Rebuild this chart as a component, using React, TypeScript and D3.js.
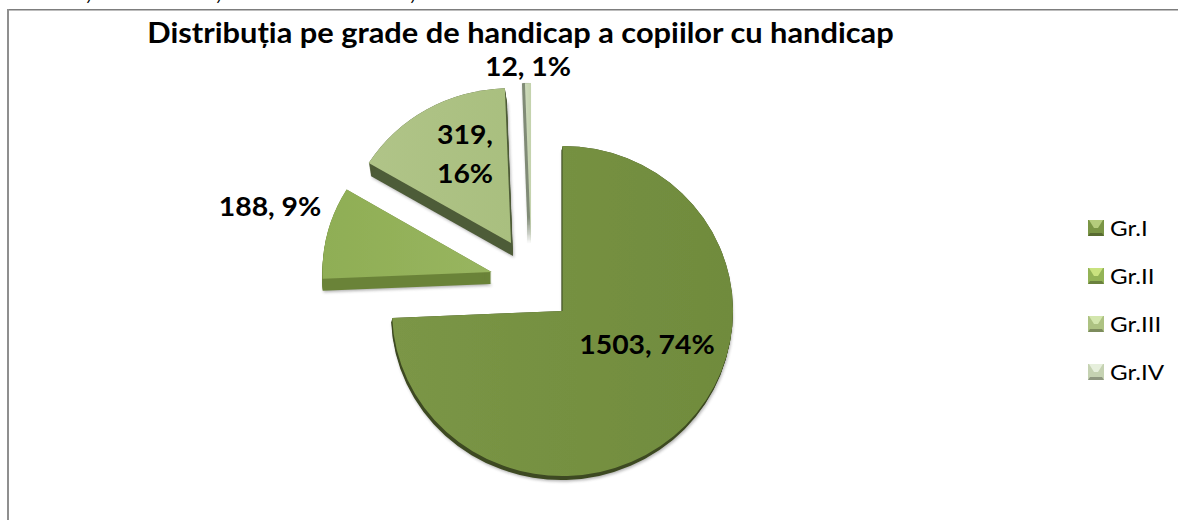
import React from "react";
import * as d3 from "d3";

const titleText = "Distribuția pe grade de handicap a copiilor cu handicap";
const categories = ["Gr.I", "Gr.II", "Gr.III", "Gr.IV"];
const seriesValues = [1503, 188, 319, 12];
const faceColors = [
  ["#7b9646", "#708b3d"],
  ["#8fae55", "#98b55f"],
  ["#b0c488", "#a9bf7f"],
  ["#cddabb", "#c3d2ac"],
];
const wallColors = ["#3d4a20", "#6b8339", "#4e5b37", "#808b76"];
const legendColors = ["#7a9545", "#93b356", "#adc282", "#c5d2b2"];
const legendLight = ["#b4cb7c", "#c9e27f", "#d3e6ad", "#e6efdc"];
const clippedCommaX = [86, 216, 410];

// Each wedge is pulled out of the pie by its own amount, so each has its own apex.
const wedges = [
  { cx: 562.5, cy: 311, rx: 170.5, ry: 165, wallX: -1, wallY: 4 },
  { cx: 491.5, cy: 272, rx: 169, ry: 160, wallX: 0, wallY: 12 },
  { cx: 511, cy: 243, rx: 166, ry: 155, wallX: 2, wallY: 13 },
  { cx: 531, cy: 243, rx: 164, ry: 160, wallX: -3, wallY: 0 },
];
const labelLines = [
  [{ lines: "1503, 74%", x: 647, y: 354 }],
  [{ lines: "188, 9%", x: 270, y: 216 }],
  [{ lines: "319,", x: 465, y: 144 }, { lines: "16%", x: 465, y: 183 }],
  [{ lines: "12, 1%", x: 528, y: 76 }],
];
const W = 1178;
const H = 520;
const FONT = "Lato, 'Open Sans', sans-serif";

export default function App() {
  const pie = d3.pie<number>().sort(null).value((d) => d);
  const arcs = pie(seriesValues);
  const arc = d3.arc<d3.PieArcDatum<number>>().innerRadius(0).outerRadius(1);
  const legendY = d3.scalePoint<string>().domain(categories).range([228, 372]);
  const full = { filterUnits: "userSpaceOnUse" as const, x: 0, y: 0, width: W, height: H };

  return (
    <svg width={W} height={H} style={{ position: "absolute", left: 0, top: 0 }}>
      <defs>
        {faceColors.map((c, i) => (
          <linearGradient key={i} id={`face${i}`} x1="0" x2="1" y1="0" y2="0">
            <stop offset="0" stopColor={c[0]} />
            <stop offset="1" stopColor={c[1]} />
          </linearGradient>
        ))}
        <filter id="soft" {...full}>
          <feGaussianBlur stdDeviation="1.6" />
        </filter>
        <filter id="edge" {...full}>
          <feGaussianBlur stdDeviation="0.4" />
        </filter>
      </defs>
      <rect width={W} height={H} fill="#fff" />

      {clippedCommaX.map((x) => (
        <text key={x} x={x} y={0} fontFamily={FONT} fontWeight={700} fontSize={22} fill="#000">
          ,
        </text>
      ))}

      <line x1={8} x2={W} y1={9.5} y2={9.5} stroke="#7d7d7d" />
      <line x1={8} x2={W} y1={10.5} y2={10.5} stroke="#bdbdbd" />
      <line x1={8} x2={8} y1={9} y2={H} stroke="#8f8f8f" strokeWidth={2} />

      {arcs.map((a, i) => {
        const g = wedges[i];
        const d = arc(a) as string;
        const n = Math.ceil(Math.max(Math.abs(g.wallX), Math.abs(g.wallY)));
        const steps = d3.range(0, n + 1);
        const tf = (ox: number, oy: number) =>
          `translate(${g.cx + ox},${g.cy + oy}) scale(${g.rx},${g.ry})`;
        return (
          <g key={i}>
            <g filter="url(#soft)" opacity={0.45}>
              <path d={d} transform={tf(g.wallX + 1, g.wallY + 1.5)} fill="#555" />
            </g>
            <g filter="url(#edge)">
              {steps.map((s) => (
                <path
                  key={s}
                  d={d}
                  transform={tf((g.wallX * s) / n, (g.wallY * s) / n)}
                  fill={wallColors[i]}
                />
              ))}
              <path d={d} transform={tf(0, 0)} fill={`url(#face${i})`} />
            </g>
          </g>
        );
      })}

      <text
        transform="translate(520.5,43) scale(1.1,1)"
        textAnchor="middle"
        fontFamily={FONT}
        fontWeight={700}
        fontSize={28}
        fill="#000"
      >
        {titleText}
      </text>
      {labelLines.map((lines, i) =>
        lines.map((l, j) => (
          <text
            key={`${i}-${j}`}
            transform={`translate(${l.x},${l.y}) scale(1.05,1)`}
            textAnchor="middle"
            fontFamily={FONT}
            fontWeight={700}
            fontSize={27}
            fill="#000"
          >
            {l.lines}
          </text>
        ))
      )}

      {categories.map((c, i) => {
        const y = legendY(c) as number;
        const x0 = 1088;
        const s = 16;
        const top = y - s / 2;
        return (
          <g key={c}>
            <rect x={x0} y={top} width={s} height={s} fill={legendColors[i]} />
            <path
              d={`M${x0 + 1},${top}H${x0 + s - 1}L${x0 + s / 2 + 2},${top + 8}H${x0 + s / 2 - 2}Z`}
              fill={legendLight[i]}
            />
            <path
              d={`M${x0},${top + s}H${x0 + s}L${x0 + s - 2},${top + s - 3}H${x0 + 2}Z`}
              fill="#000"
              opacity={0.28}
            />
            <text
              transform={`translate(1110,${y + 8}) scale(1.15,1)`}
              fontFamily={FONT}
              fontSize={21}
              fill="#000"
            >
              {c}
            </text>
          </g>
        );
      })}
    </svg>
  );
}
